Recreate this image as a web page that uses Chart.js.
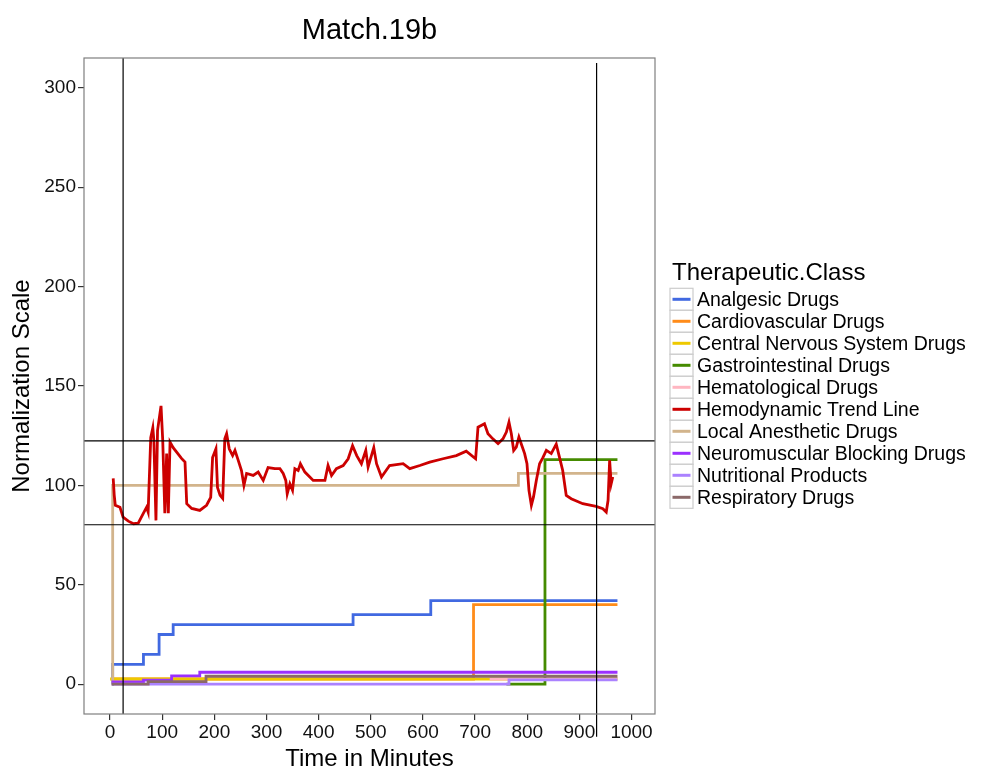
<!DOCTYPE html>
<html>
<head>
<meta charset="utf-8">
<script src="https://cdn.jsdelivr.net/npm/chart.js@4.4.1/dist/chart.umd.min.js"></script>
<style>
  body { margin: 0; background: #fff; }
</style>
</head>
<body>
<canvas id="chart" width="981" height="774"></canvas>
<script>
const chartElement = document.getElementById('chart') ;

// axis ticks
const xTicks = [0, 100, 200, 300, 400, 500, 600, 700, 800, 900, 1000] ;
const yTicks = [0, 50, 100, 150, 200, 250, 300] ;

// drug step series : time in minutes / normalized value
const analgesicT = [4, 5, 64, 94, 121, 466, 615, 973] ;
const analgesicV = [0, 10, 15, 25, 30, 35, 42, 42] ;
const cardioT = [4, 697, 973] ;
const cardioV = [2.6, 40, 40] ;
const cnsT = [0, 973] ;
const cnsV = [2.6, 2.6] ;
const gastroT = [760, 834, 973] ;
const gastroV = [0, 113, 113] ;
const hemaT = [728, 973] ;
const hemaV = [2.5, 2.5] ;
const localT = [3, 5, 783, 973] ;
const localV = [0, 100, 106, 106] ;
const neuroT = [3, 64, 118, 172, 973] ;
const neuroV = [1.2, 2, 4.2, 6, 6] ;
const nutriT = [3, 765, 973] ;
const nutriV = [0, 2.2, 2.2] ;
const respT = [3, 73, 184, 973] ;
const respV = [0, 1.3, 4, 4] ;

// hemodynamic trend line
const trendT = [6, 8, 10, 19, 25, 35, 45, 54, 64, 70, 73, 78, 82, 84, 88, 91, 97.7, 101, 105, 108.5,
  111.7, 115, 121, 127.7, 137, 143.7, 147, 156.5, 172, 185, 193, 196.6, 203, 206, 211, 216, 220, 223.5,
  228.5, 235, 239.5, 245.8, 252, 256.7, 261.8, 274.5, 284, 293.7, 303, 316, 325.7, 332, 337, 339.7,
  344.8, 349.9, 354.4, 360.7, 365, 373.6, 383, 389.5, 412, 418, 424.7, 434, 447, 456.6, 465, 473, 482,
  490.4, 494.8, 505.7, 511, 520.5, 536, 562, 574.7, 594, 613, 638.5, 664, 683, 701, 705.6, 718, 724.7,
  734, 744, 753.4, 760, 765, 769.5, 774, 779, 784, 790.6, 795, 799.5, 803.3, 807.9, 812, 817.4, 823.7,
  830, 836.6, 846, 855.6, 862, 868, 874.8, 884.3, 906.5, 932, 945, 951.5, 955, 958, 961, 964] ;
const trendV = [103.5, 95, 90, 89, 84, 82, 80.7, 81, 86, 89, 86.6, 124, 129, 122.6, 82.4, 127.6, 140, 122.6, 86, 116,
  86, 121.8, 119, 116.7, 113.6, 111.7, 90.8, 88.4, 87.4, 90, 94, 114, 118.4, 99, 95, 93.4, 123.4, 126,
  118.4, 115, 117.6, 112.6, 107.5, 100, 106, 105, 106.7, 102.5, 109, 108.4, 108.4, 106, 102.5, 95.8,
  100.8, 97.5, 108.4, 107.5, 110.9, 106.7, 104.2, 102.5, 102.5, 110, 105, 108.4, 110, 113.4, 120, 115, 110.9,
  117.6, 109.2, 119, 110.9, 104.2, 110, 110.9, 108.4, 110, 111.7, 113.4, 115, 117.2, 113.4, 129.3, 131, 126,
  123.4, 121, 123.4, 126.8, 131.8, 126, 117.6, 119.3, 124.3, 119.3, 116, 110.9, 97.5, 90, 94.2, 102.5, 110.9,
  114, 117.6, 116, 120.8, 114, 107.5, 95, 93.3, 90.8, 89.4, 88.3, 86.6, 92.5, 112.6, 100.8, 104.2] ;

// reference lines
const vLines = [25, 933] ;
const vLineSpan = [[-15, 315], [-26.5, 312.5]] ;
const hLines = [122.4, 80.2] ;

const legendTitle = 'Therapeutic.Class' ;

function toPoints(t, v) {
    return t.map((x, i) => ({ x: x, y: v[i] })) ;
}

function stepSet(label, t, v, color) {
    return {
        label: label,
        data: toPoints(t, v),
        borderColor: color,
        borderWidth: 2.8,
        stepped: 'before',
        pointRadius: 0,
        fill: false,
        order: 3,
        inLegend: true
    } ;
}

const datasets = [
    stepSet('Analgesic Drugs', analgesicT, analgesicV, '#4169E1'),
    stepSet('Cardiovascular Drugs', cardioT, cardioV, '#FF8C1A'),
    stepSet('Central Nervous System Drugs', cnsT, cnsV, '#EEC900'),
    stepSet('Gastrointestinal Drugs', gastroT, gastroV, '#458B00'),
    stepSet('Hematological Drugs', hemaT, hemaV, '#FFB6C1'),
    {
        label: 'Hemodynamic Trend Line',
        data: toPoints(trendT, trendV),
        borderColor: '#CC0000',
        borderWidth: 2.8,
        tension: 0,
        pointRadius: 0,
        fill: false,
        order: 2,
        inLegend: true
    },
    stepSet('Local Anesthetic Drugs', localT, localV, '#D2B48C'),
    stepSet('Neuromuscular Blocking Drugs', neuroT, neuroV, '#9B30FF'),
    stepSet('Nutritional Products', nutriT, nutriV, '#AB82FF'),
    stepSet('Respiratory Drugs', respT, respV, '#8B6969')
] ;

// draw the drug series in ggplot order (later on top)
datasets.forEach((d, i) => { if (d.order === 3) d.order = 20 - i ; }) ;

vLines.forEach((x, i) => {
    datasets.push({
        label: 'v' + i,
        data: [{ x: x, y: vLineSpan[i][0] }, { x: x, y: vLineSpan[i][1] }],
        borderColor: '#000',
        borderWidth: 1.2,
        pointRadius: 0,
        clip: false,
        order: 1
    }) ;
}) ;
hLines.forEach((y, i) => {
    datasets.push({
        label: 'h' + i,
        data: [{ x: -50, y: y }, { x: 1045, y: y }],
        borderColor: '#000',
        borderWidth: 1.2,
        pointRadius: 0,
        order: 1
    }) ;
}) ;

const panelAndLegend = {
    id: 'panelAndLegend',
    afterDatasetsDraw(chart) {
        const { ctx, chartArea: { top, bottom, left, right } } = chart ;
        ctx.save() ;
        ctx.strokeStyle = '#7F7F7F' ;
        ctx.lineWidth = 1.2 ;
        ctx.strokeRect(left, top, right - left, bottom - top) ;
        ctx.restore() ;
    },
    afterDraw(chart) {
        const { ctx } = chart ;
        ctx.save() ;
        ctx.fillStyle = '#000' ;
        ctx.textBaseline = 'middle' ;
        ctx.textAlign = 'left' ;
        ctx.font = '24px "Liberation Sans", Arial, sans-serif' ;
        ctx.fillText(legendTitle, 672, 273) ;

        ctx.font = '19.5px "Liberation Sans", Arial, sans-serif' ;
        const items = chart.data.datasets.filter(d => d.inLegend) ;
        items.forEach((d, i) => {
            const cy = 299.3 + i * 22 ;
            ctx.fillStyle = '#fff' ;
            ctx.fillRect(670, cy - 11, 23, 22) ;
            ctx.strokeStyle = '#CCCCCC' ;
            ctx.lineWidth = 1.2 ;
            ctx.strokeRect(670, cy - 11, 23, 22) ;
            ctx.strokeStyle = d.borderColor ;
            ctx.lineWidth = 3 ;
            ctx.beginPath() ;
            ctx.moveTo(672.5, cy) ;
            ctx.lineTo(690.5, cy) ;
            ctx.stroke() ;
            ctx.fillStyle = '#000' ;
            ctx.fillText(d.label, 697, cy + 1) ;
        }) ;
        ctx.restore() ;
    }
} ;

Chart.defaults.font.family = '"Liberation Sans", Arial, sans-serif' ;
Chart.defaults.color = '#000' ;

const chart = new Chart(chartElement, {
    type: 'line',
    data: { datasets: datasets },
    options: {
        responsive: false,
        animation: false,
        devicePixelRatio: 1,
        layout: { padding: { right: 326, left: 0, top: 0, bottom: 0 } },
        scales: {
            x: {
                type: 'linear',
                min: -50,
                max: 1045,
                afterBuildTicks: (s) => { s.ticks = xTicks.map(v => ({ value: v })) ; },
                afterFit: (s) => { s.height = 60 ; },
                grid: { drawOnChartArea: false, drawTicks: true, tickLength: 6, tickColor: '#333', lineWidth: 1.2 },
                border: { display: false },
                ticks: { font: { size: 19 }, color: '#111', padding: 1, maxRotation: 0, autoSkip: false,
                         callback: (v) => String(v) },
                title: { display: true, text: 'Time in Minutes', font: { size: 24 }, color: '#000', padding: { top: 0, bottom: 0 } }
            },
            y: {
                type: 'linear',
                min: -15,
                max: 315,
                afterBuildTicks: (s) => { s.ticks = yTicks.map(v => ({ value: v })) ; },
                afterFit: (s) => { s.width = 84 ; },
                grid: { drawOnChartArea: false, drawTicks: true, tickLength: 6, tickColor: '#333', lineWidth: 1.2 },
                border: { display: false },
                ticks: { font: { size: 19 }, color: '#111', padding: 2, autoSkip: false,
                         callback: (v) => String(v) },
                title: { display: true, text: 'Normalization Scale', font: { size: 24 }, color: '#000', padding: { top: 8, bottom: 0 } }
            }
        },
        plugins: {
            legend: { display: false },
            tooltip: { enabled: false },
            title: {
                display: true,
                text: 'Match.19b',
                fullSize: false,
                font: { size: 29, weight: 'normal' },
                color: '#000',
                padding: { top: 13.6, bottom: 9.6 }
            }
        }
    },
    plugins: [panelAndLegend]
}) ;
</script>
</body>
</html>
